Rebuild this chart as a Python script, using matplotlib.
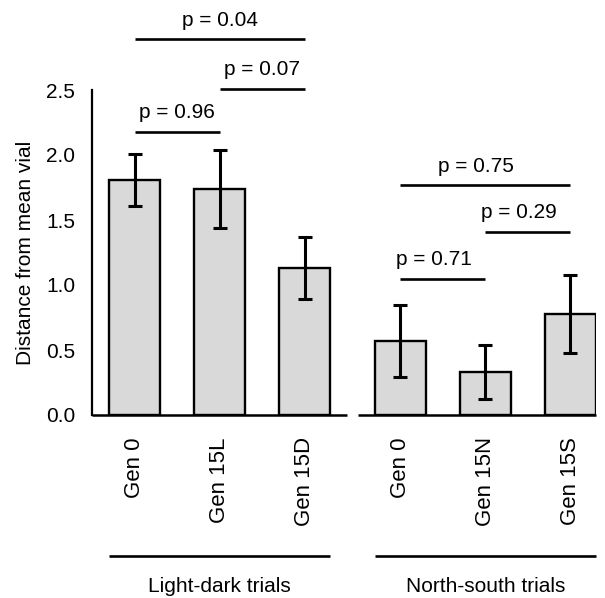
import matplotlib
matplotlib.use("Agg")
import matplotlib.pyplot as plt

plt.rcParams["font.family"] = ["Liberation Sans", "DejaVu Sans"]

# data
groups = ["Light-dark trials", "North-south trials"]
labels = ["Gen 0", "Gen 15L", "Gen 15D", "Gen 0", "Gen 15N", "Gen 15S"]
means = [1.81, 1.74, 1.13, 0.57, 0.33, 0.78]
errors = [0.20, 0.30, 0.24, 0.28, 0.21, 0.30]
group_of = [0, 0, 0, 1, 1, 1]

# pairwise comparisons: (bar i, bar j, bracket height, p value)
comp_i = [0, 1, 0, 3, 4, 3]
comp_j = [1, 2, 2, 4, 5, 5]
comp_y = [2.175, 2.51, 2.89, 1.05, 1.41, 1.767]
comp_p = [0.96, 0.07, 0.04, 0.71, 0.29, 0.75]

GROUP_GAP = 0.125
FS = 15

xpos = [i + GROUP_GAP * g for i, g in enumerate(group_of)]
width = 0.6

fig = plt.figure(figsize=(6.05, 5.98), dpi=100)
ax = fig.add_axes([92 / 605, 183 / 598, 504 / 605, 325 / 598])

ax.bar(xpos, means, width=width, color="#d9d9d9", edgecolor="black",
       linewidth=1.7, zorder=2)
ax.errorbar(xpos, means, yerr=errors, fmt="none", ecolor="black",
            elinewidth=2.2, capsize=5, capthick=2.2, zorder=3)

ax.set_xlim(-0.5, xpos[-1] + width / 2)
ax.set_ylim(0, 2.5)
ax.set_yticks([0, 0.5, 1.0, 1.5, 2.0, 2.5])
ax.set_yticklabels([f"{v:.1f}" for v in [0, 0.5, 1.0, 1.5, 2.0, 2.5]])
ax.set_xticks(xpos)
ax.set_xticklabels(labels, rotation=90)
ax.tick_params(axis="both", length=0)
ax.tick_params(axis="y", pad=12, labelsize=FS)
ax.tick_params(axis="x", pad=16, labelsize=16)

for s in ["top", "right", "bottom"]:
    ax.spines[s].set_visible(False)
ax.spines["left"].set_linewidth(1.6)

ax.set_ylabel("Distance from mean vial", fontsize=FS)
ax.yaxis.set_label_coords(-0.113, 0.5)

# split baseline, one per group
for g in range(len(groups)):
    xs = [x for x, gg in zip(xpos, group_of) if gg == g]
    left = xs[0] - width / 2 - 0.2
    right = xs[-1] + width / 2 + (0.2 if g == 0 else 0)
    if g == 0:
        left = -0.5
    ax.plot([left, right], [0, 0], color="black", lw=1.8, clip_on=False,
            solid_capstyle="butt", zorder=4)

# significance brackets
for i, j, y, p in zip(comp_i, comp_j, comp_y, comp_p):
    x0, x1 = xpos[i], xpos[j]
    ax.plot([x0, x1], [y, y], color="black", lw=1.9, clip_on=False,
            solid_capstyle="butt")
    shift = 0 if group_of[i] == 0 else -0.11
    ax.text((x0 + x1) / 2 + shift, y + 0.075, f"p = {p:.2f}", ha="center",
            va="bottom", fontsize=FS, clip_on=False)

# group labels under the tick labels
for g, name in enumerate(groups):
    xs = [x for x, gg in zip(xpos, group_of) if gg == g]
    ax.plot([xs[0] - width / 2, xs[-1] + width / 2], [-1.085, -1.085],
            color="black", lw=1.9, clip_on=False, solid_capstyle="butt")
    ax.text((xs[0] + xs[-1]) / 2, -1.245, name, ha="center", va="top",
            fontsize=FS, clip_on=False)

fig.savefig("out.png", dpi=100)
